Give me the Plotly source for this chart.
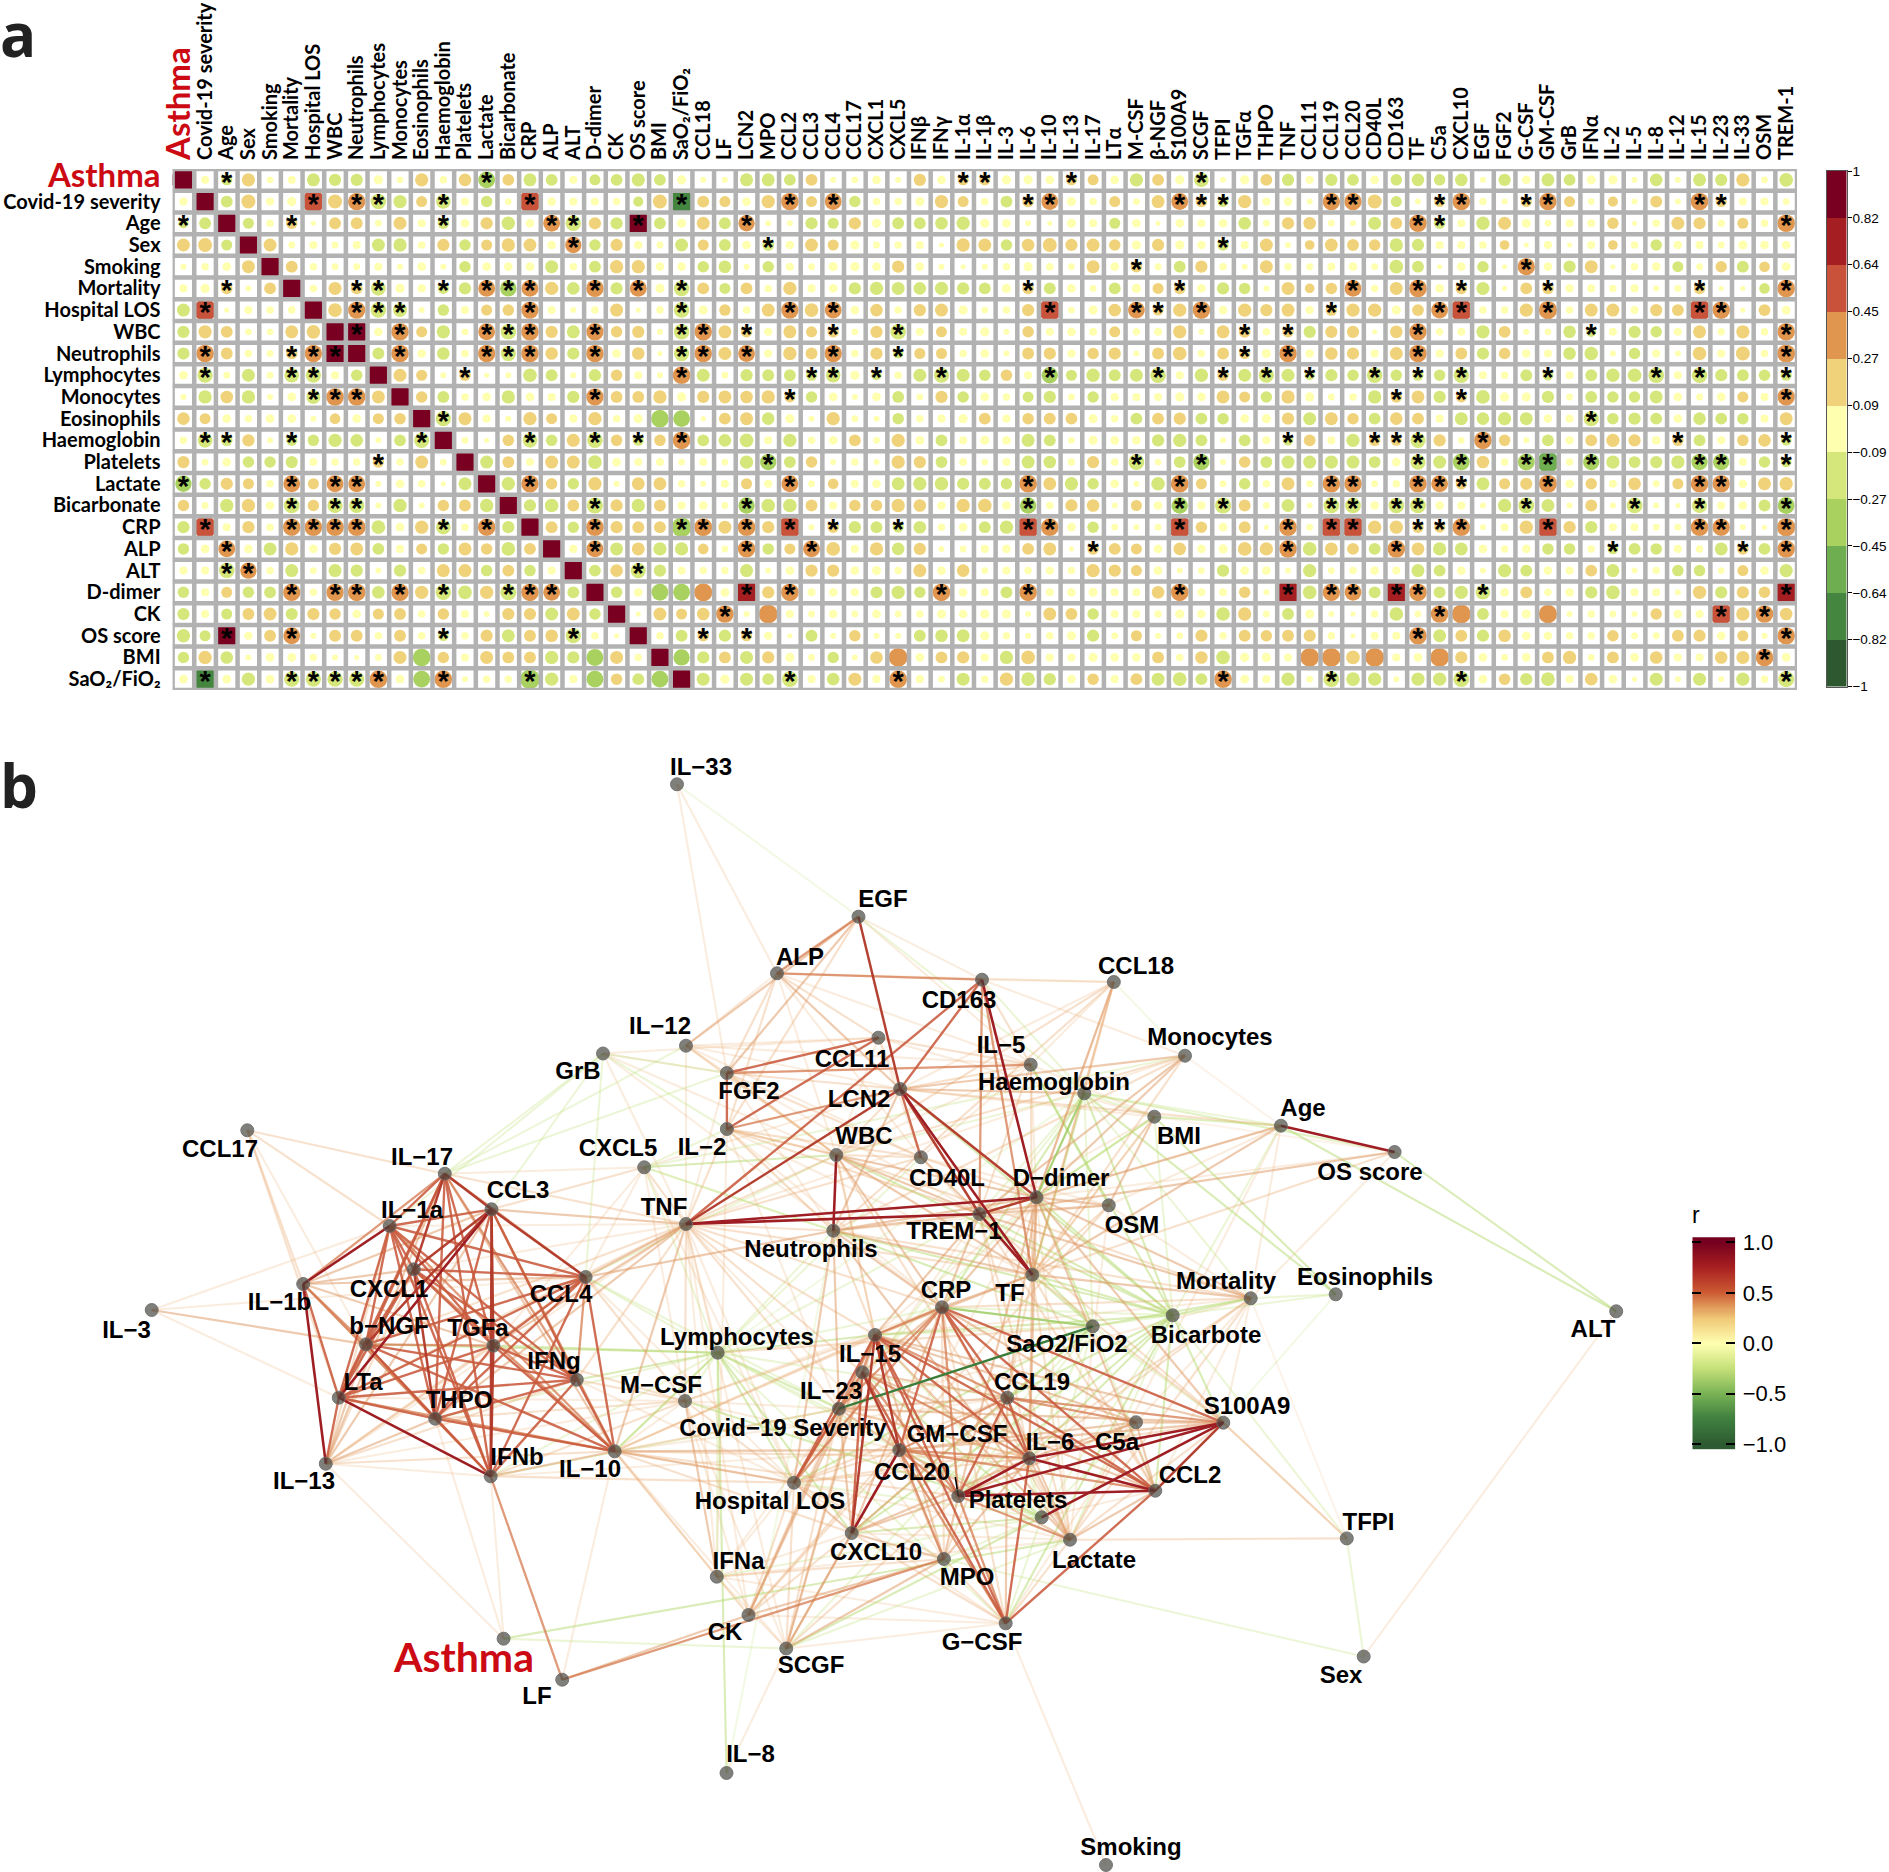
import numpy as np
import plotly.graph_objects as go

W, H = 1889, 1872

# ---------- panel a data ----------
col_labels = ["Asthma","Covid-19 severity","Age","Sex","Smoking","Mortality","Hospital LOS","WBC","Neutrophils","Lymphocytes","Monocytes","Eosinophils","Haemoglobin","Platelets","Lactate","Bicarbonate","CRP","ALP","ALT","D-dimer","CK","OS score","BMI","SaO₂/FiO₂","CCL18","LF","LCN2","MPO","CCL2","CCL3","CCL4","CCL17","CXCL1","CXCL5","IFNβ","IFNγ","IL-1α","IL-1β","IL-3","IL-6","IL-10","IL-13","IL-17","LTα","M-CSF","β-NGF","S100A9","SCGF","TFPI","TGFα","THPO","TNF","CCL11","CCL19","CCL20","CD40L","CD163","TF","C5a","CXCL10","EGF","FGF2","G-CSF","GM-CSF","GrB","IFNα","IL-2","IL-5","IL-8","IL-12","IL-15","IL-23","IL-33","OSM","TREM-1"]
row_labels = col_labels[:24]

# correlation x100, one list per row
r_asthma = [100,6,-12,18,4,6,-17,-15,-15,8,4,18,5,16,-30,14,-17,-14,6,-12,-14,-18,-14,8,3,3,-17,-17,-14,14,3,4,7,3,15,7,12,12,8,8,7,12,12,7,-18,14,8,-22,3,8,14,-15,6,-15,-14,7,-13,-16,-13,-16,3,-15,7,-17,-14,8,8,3,-16,3,-17,-15,18,4,-19]
r_covid = [6,100,-14,20,6,8,55,20,32,-25,-18,12,-22,6,-13,4,55,7,6,6,5,-10,20,-68,14,12,7,18,33,12,30,-13,5,5,8,18,12,5,-14,13,30,8,5,12,4,17,30,13,-12,18,6,7,3,32,32,20,-12,3,12,33,5,3,12,32,12,4,10,3,14,3,33,12,6,6,4]
r_age = [-10,-14,100,-12,5,13,2,14,14,4,17,6,-13,7,15,-18,7,30,-25,15,-15,90,-14,8,17,-14,28,3,3,-15,-12,15,8,-14,-14,-16,-18,8,7,3,2,8,6,-12,7,2,7,6,7,-16,4,15,16,4,3,-17,14,33,-13,6,-18,17,8,4,6,6,13,2,5,17,15,5,12,5,33]
r_sex = [17,20,-12,100,17,4,6,4,6,-17,-18,5,15,-13,12,18,17,7,28,-13,15,7,4,-17,12,-14,7,-14,7,17,12,8,4,5,6,2,18,17,-13,16,20,15,17,13,8,15,8,7,-13,6,17,3,9,17,14,13,-18,-15,6,6,5,9,2,6,2,6,9,5,-13,7,6,4,8,7,7]
r_smoking = [3,5,7,17,100,14,5,4,4,6,3,7,3,-13,7,7,7,-17,5,-14,18,18,7,7,-13,-16,3,-13,6,4,8,8,7,15,7,3,2,3,5,8,5,4,17,7,13,4,-14,15,5,3,17,5,4,6,7,4,-19,-14,2,7,-13,2,32,7,-15,17,2,5,7,-12,4,13,-14,11,7]
r_mortality = [6,8,13,3,14,100,5,17,14,-22,8,6,-12,-15,30,-28,30,18,-16,32,-15,30,8,-25,14,-12,14,5,18,6,7,-15,-18,-17,-16,-18,-15,-14,8,13,-14,7,4,-14,8,12,13,7,-15,-13,3,17,9,13,30,5,17,33,7,13,-17,2,14,13,6,6,5,6,3,4,13,2,2,-11,33]
r_hospital = [-17,55,2,6,5,5,100,19,32,-25,-20,3,-13,6,12,13,32,6,3,5,17,2,5,-25,8,13,5,17,32,19,30,7,16,5,15,17,8,4,5,15,55,4,8,16,30,12,18,33,7,18,15,17,6,13,18,18,8,14,30,55,5,5,18,36,5,17,17,6,15,14,55,33,2,14,7]
r_wbc = [-15,18,14,4,4,17,19,100,90,7,33,12,-18,4,30,-25,33,15,-17,32,13,15,3,-25,33,17,13,6,17,12,13,4,15,-25,6,12,6,8,3,13,6,7,6,12,5,6,18,3,17,14,5,13,-15,15,15,2,16,32,5,6,-18,14,3,4,-16,-10,6,-15,-13,6,17,5,18,5,33]
r_neutrophils = [-15,33,14,5,4,13,32,90,100,-14,33,7,-16,5,32,-24,33,16,-15,33,7,16,2,-24,33,17,30,6,18,14,32,5,15,-10,12,12,5,7,3,14,15,6,13,15,3,14,19,5,14,12,8,33,7,16,15,6,17,33,6,14,-15,13,7,6,-16,-19,3,-13,6,3,19,6,20,5,35]
r_lymphocytes = [7,-24,4,-17,4,-22,-24,6,-13,100,17,12,3,13,2,3,-19,-14,3,-15,13,6,3,33,-17,4,-15,-14,-14,-12,-22,8,-10,5,-17,-24,-17,-13,13,6,-28,-12,-18,-14,-17,-25,6,-18,13,-17,-24,-17,-10,-15,-13,-25,-13,-12,-13,-25,6,5,-14,-11,6,-14,-18,-19,-26,6,-25,-15,-14,-13,-12]
r_monocytes = [3,-18,16,-18,3,7,-20,33,33,17,100,13,-14,5,7,-18,7,6,-15,32,14,14,18,8,15,17,16,18,12,-13,7,3,7,-14,4,15,-13,7,5,-12,-15,4,-13,6,6,6,8,7,17,12,-13,18,8,4,5,-18,13,17,-15,12,-19,8,8,-15,4,-14,-13,-13,-17,7,4,7,12,6,32]
r_eosinophils = [16,12,7,5,7,7,3,11,7,12,13,100,-24,17,6,3,18,12,6,18,5,8,-33,-30,2,14,17,-16,8,3,18,4,3,-13,5,6,8,14,6,13,14,14,8,5,-14,14,15,-14,-13,7,8,15,-17,17,13,-14,16,14,6,-17,-16,-18,-17,7,6,-24,-13,-15,-14,7,-16,-14,-13,6,17]
r_haemoglobin = [5,-22,-13,15,3,-12,-13,-18,-16,3,-14,-24,100,4,2,13,-22,-13,17,-25,13,-12,13,33,-14,-16,-19,6,-18,5,7,14,4,18,7,-14,6,8,7,-17,-14,4,8,7,7,-15,-18,-14,3,-14,6,-11,14,6,-18,13,12,-24,15,4,33,13,3,-14,6,14,18,15,7,13,-14,6,13,16,-11]
r_platelets = [15,4,7,-13,-13,-15,6,5,5,13,5,17,4,100,-17,14,6,17,17,-19,7,6,6,4,6,4,-18,-28,-14,13,3,5,3,18,15,-14,6,4,6,-17,-16,5,15,5,-26,4,-14,-28,3,13,-14,-17,-17,-18,-17,-14,7,-24,-17,-30,16,5,-30,-50,5,-28,-18,-14,-15,-18,-28,-28,6,-13,-11]
r_lactate = [-28,-13,15,12,5,30,12,30,30,3,7,5,2,-17,100,-18,32,13,-13,18,3,17,17,5,3,6,12,6,30,4,11,6,7,-17,-18,-19,-15,-14,-13,34,17,-18,-13,7,3,-19,34,12,4,-13,5,17,4,33,33,4,5,33,30,13,-17,12,15,35,7,13,6,16,4,12,33,32,7,17,18]
r_bicarbonate = [13,4,-18,18,7,-26,13,-24,-24,3,-18,3,13,14,-18,100,-15,-19,14,-27,15,-18,14,6,7,4,-28,-19,-19,14,6,13,13,18,16,7,18,19,7,-28,5,15,16,3,12,7,-28,7,-27,14,4,-17,3,-26,-26,7,-25,-26,7,6,3,-18,-26,-17,3,14,3,-26,3,2,-24,6,7,-14,-30]
r_crp = [-15,55,6,15,5,32,33,33,33,-19,7,18,-22,5,32,-15,100,14,-13,33,15,14,14,-42,34,17,33,15,58,3,13,-15,-14,-12,-16,5,7,-14,-18,58,33,7,-13,4,3,4,58,13,7,14,2,33,4,58,58,18,18,13,12,33,3,6,18,58,15,-15,6,6,4,4,33,32,3,2,36]
r_alp = [-13,7,30,7,-17,18,7,15,17,-14,6,12,-13,17,13,-19,14,100,6,30,-17,17,-18,-18,11,4,32,-13,12,30,19,6,18,-16,15,3,4,6,7,14,17,2,13,14,12,7,16,7,8,19,18,33,-19,17,14,-14,33,17,-18,-17,7,5,7,-13,-13,5,-11,-14,-13,6,5,-17,13,-14,33]
r_alt = [6,6,-25,28,5,-17,4,-17,-15,3,-15,5,17,17,-13,14,-13,6,100,-14,16,-24,-15,6,5,5,-17,3,7,15,15,7,8,5,17,7,16,4,6,5,6,5,18,15,12,7,3,4,-15,7,7,3,-18,4,5,7,6,-17,-14,7,3,-18,-14,7,6,14,-17,3,5,-13,-13,4,12,7,-18]
r_ddimer = [-13,6,12,-13,-14,32,5,32,33,-16,32,18,-25,-19,18,-27,33,30,-14,100,-13,7,-30,-30,35,7,70,15,33,6,7,6,-14,-18,-13,33,7,6,-14,33,6,7,8,6,6,16,33,6,6,13,3,70,-19,32,30,-14,70,33,-14,-18,-22,7,14,5,7,-15,-19,6,6,3,18,-15,15,13,70]
r_ck = [-15,6,-12,14,17,-15,15,13,7,12,14,5,13,6,3,15,15,-17,17,-13,100,2,17,12,16,33,3,38,6,4,7,4,7,4,5,8,7,8,8,3,17,14,-13,6,6,5,8,7,-19,18,4,-14,8,3,2,5,-19,4,33,38,-14,6,8,36,3,5,4,3,13,7,6,55,18,33,16]
r_os = [-18,-12,90,6,14,30,3,14,14,5,14,5,-11,5,15,-17,14,16,-24,5,2,100,5,-14,13,-15,12,6,2,-14,3,13,3,3,-14,-16,-17,8,5,3,5,8,-15,4,12,3,4,15,5,14,13,14,15,5,2,6,6,33,-17,14,-15,16,7,7,5,5,13,4,4,14,15,7,12,3,33]
r_bmi = [-13,18,-16,3,7,7,5,3,2,4,17,-33,13,6,17,14,14,-18,-15,-30,17,5,100,-28,-15,14,-17,15,8,4,-13,3,16,38,7,14,15,6,-18,19,6,6,8,7,7,14,5,16,-19,8,8,6,37,38,19,38,6,7,38,15,7,4,7,14,18,4,14,7,16,6,6,16,17,33,7]
r_sao2 = [7,-68,7,-18,7,-24,-24,-24,-24,33,7,-30,33,3,5,5,-42,-18,6,-30,13,-14,-30,100,-17,8,-17,-14,-26,6,-16,17,6,33,6,4,-17,5,18,-19,-15,7,13,6,14,-17,-19,-14,33,7,6,-18,4,-26,-19,-18,3,-18,-18,-26,7,13,-15,-19,6,16,7,2,-17,3,-17,3,-18,5,-27]
matrix_rows = [r_asthma,r_covid,r_age,r_sex,r_smoking,r_mortality,r_hospital,r_wbc,r_neutrophils,r_lymphocytes,r_monocytes,r_eosinophils,r_haemoglobin,r_platelets,r_lactate,r_bicarbonate,r_crp,r_alp,r_alt,r_ddimer,r_ck,r_os,r_bmi,r_sao2]

# significant cells (column index) for each row
sig_cols = [
 [2,14,36,37,41,47],
 [6,8,9,12,16,23,28,30,39,40,46,47,48,53,54,58,59,62,63,70,71],
 [0,5,12,17,18,21,26,57,58,74],
 [18,27,48],
 [44,62],
 [2,8,9,12,14,15,16,19,21,23,39,46,54,57,59,63,70,74],
 [1,8,9,10,16,23,28,30,40,44,45,47,53,58,59,63,70,71],
 [8,10,14,15,16,19,23,24,26,30,33,49,51,57,65,74],
 [1,5,6,7,10,14,15,16,19,23,24,26,30,33,49,51,57,74],
 [1,5,6,13,23,29,30,32,35,40,45,48,50,52,55,57,59,63,68,70,74],
 [6,7,8,19,28,56,59,74],
 [12,65],
 [1,2,5,11,16,19,21,23,51,55,56,57,60,69,74],
 [9,27,44,47,57,59,62,63,65,70,71,74],
 [0,5,7,8,16,28,39,46,53,54,57,58,59,63,70,71],
 [5,7,8,19,26,39,46,48,53,54,56,57,62,67,70,74],
 [1,5,6,7,8,12,14,19,23,24,26,28,30,33,39,40,46,51,53,54,57,58,59,63,70,71,74],
 [2,19,26,29,42,51,56,66,72,74],
 [2,3,21],
 [5,7,8,10,12,15,16,17,26,28,35,39,46,51,53,54,56,57,60,74],
 [25,58,71,73],
 [2,5,12,18,24,26,57,74],
 [73],
 [1,5,6,7,8,9,12,16,28,33,48,53,59,74],
]

bin_ticks = ["−1","−0.82","−0.64","−0.45","−0.27","−0.09","0.09","0.27","0.45","0.64","0.82","1"]
bin_edges = [-1,-0.82,-0.64,-0.45,-0.27,-0.09,0.09,0.27,0.45,0.64,0.82,1.0001]
bin_colors = ["#2E5930","#448540","#6FAE50","#A8D160","#D5E77A","#FFFFB0","#EFD279","#E0964F","#C9533A","#A51E22","#7A0022"]

# ---------- panel b data ----------
node_ids = ["IL33","EGF","ALP","CD163","CCL18","IL12","GrB","Mono","CCL11","IL5","FGF2","Haem","LCN2","BMI","Age","OS","WBC","IL2","CCL17","CXCL5","CD40L","Ddim","IL17","OSM","TNF","CCL3","IL1a","TREM1","Neut","CXCL1","IL1b","CCL4","TF","Mort","Eos","CRP","IL3","ALT","Bic","bNGF","TGFa","Lymph","IL15","SaO2","IFNg","IL23","LTa","MCSF","THPO","S100A9","CCL19","GMCSF","C5a","IL6","Covid","IL10","IFNb","IL13","CCL20","CCL2","Plat","Hosp","Lact","TFPI","CXCL10","IFNa","MPO","CK","GCSF","SCGF","Asthma","Sex","LF","IL8","Smoke"]
node_names = ["IL−33","EGF","ALP","CD163","CCL18","IL−12","GrB","Monocytes","CCL11","IL−5","FGF2","Haemoglobin","LCN2","BMI","Age","OS score","WBC","IL−2","CCL17","CXCL5","CD40L","D−dimer","IL−17","OSM","TNF","CCL3","IL−1a","TREM−1","Neutrophils","CXCL1","IL−1b","CCL4","TF","Mortality","Eosinophils","CRP","IL−3","ALT","Bicarbote","b−NGF","TGFa","Lymphocytes","IL−15","SaO2/FiO2","IFNg","IL−23","LTa","M−CSF","THPO","S100A9","CCL19","GM−CSF","C5a","IL−6","Covid−19 Severity","IL−10","IFNb","IL−13","CCL20","CCL2","Platelets","Hospital LOS","Lactate","TFPI","CXCL10","IFNa","MPO","CK","G−CSF","SCGF","Asthma","Sex","LF","IL−8","Smoking"]
node_x = [677,858.5,777,982,1113.8,686,603,1185,878.4,1030.7,726.9,1084.3,900.2,1154.3,1280.9,1394.6,836.3,726.9,247.3,644.2,920.9,1036.5,444.8,1108.8,686,491.5,389.7,979.5,833.3,413.8,303.2,585.6,1032.3,1250.7,1335.7,942,151.7,1616.2,1172.7,366,493.4,717.7,875,1092.7,576.8,862.3,338.8,685,435.2,1223.3,1007.3,899.3,1136,1029.3,839,614.7,490.7,325.8,958.3,1155.3,1041.7,794,1070,1346.8,851.7,716.8,943.9,748.5,1005.7,786.2,503.6,1363.7,562.2,726.5,1106]
node_y = [784.3,916.7,973.3,979.7,982,1045.7,1053.5,1055.7,1037.7,1064.7,1073,1093.3,1089,1116.7,1125.7,1152,1155,1129,1130.3,1167.3,1157.3,1197.3,1173.7,1205.3,1224,1209.3,1226,1214,1230.7,1269.3,1284,1277,1274.7,1298.3,1294.3,1307.3,1310,1311.3,1315.3,1344.3,1345.7,1352.7,1335,1326.3,1379.7,1372.3,1397.7,1401,1418.7,1422.7,1397.7,1450,1422.3,1458.3,1408.7,1451.3,1476.3,1463.7,1496,1490.7,1517.3,1482.7,1539.7,1538.4,1533,1576.7,1559,1615,1623.3,1648.5,1638.7,1656.5,1679.7,1773,1865]
label_x = [701,883,800,959,1136,660,578,1210,852,1001,749,1054,859,1179,1303,1370,864,702,220,618,947,1061,422,1132,664,518,412,954,811,389,279.5,561,1010,1226,1365,946,126.5,1593,1206,389,478,737,870,1067,554,831,363,661,459,1247,1032,957,1117,1050,783,590,517,304,912,1190,1018,770,1094,1368.5,876,738.5,967,725,982,811,464,1341,537,750.5,1131]
label_y = [769,901,958.5,1002,968,1028,1073,1039,1061,1046.5,1093,1084,1101,1138,1110,1174,1138,1149,1151,1150,1180,1180,1158.5,1227,1209,1192,1211.5,1233,1251,1291,1304,1296,1295,1283,1279,1292,1332,1331,1337,1328,1329.5,1339,1356,1346,1363,1393,1384,1387,1402,1408,1384,1436,1444,1444,1429.6,1470.5,1458.5,1482.5,1474,1476.5,1502,1503,1562,1523.5,1554,1563,1579,1634,1644,1667,1662,1676.5,1698,1756,1849]

edge_list = """
WBC Neut 95;Age OS 95;IL1b IL13 95;IL6 S100A9 92;Plat S100A9 92;CCL20 S100A9 92;CCL20 CCL2 90;IL6 CCL2 88;CCL20 IL6 88;GMCSF CXCL10 92;LTa IFNb 88;IL1a IL1b 85;
TNF TREM1 80;TNF Ddim 80;LCN2 TF 80;LCN2 TREM1 78;LCN2 Ddim 72;CD163 Ddim 80;EGF LCN2 70;TREM1 TF 80;TREM1 Ddim 68;CCL2 S100A9 72;CCL3 LTa 80;CCL3 CXCL1 78;TNF LCN2 66;TNF CD163 62;LCN2 CD163 62;LCN2 CD40L 62;CCL11 IL2 56;CCL11 FGF2 56;FGF2 IL2 56;CD163 TREM1 48;CD163 TF 45;
FGF2 IL5 40;LCN2 IL2 40;LCN2 Mono 30;ALP CD163 40;EGF IL12 38;LCN2 Haem 32;CCL11 IL5 25;IL2 CD40L 25;FGF2 LCN2 25;
IL17 CCL3 72;IL17 IL1a 50;IL17 CXCL1 65;IL17 LTa 60;IL17 THPO 62;IL17 IFNb 62;IL17 bNGF 55;IL17 TGFa 55;IL17 IL1b 40;IL17 CCL4 45;IL17 IFNg 40;IL17 IL10 30;IL17 IL13 30;IL17 CCL17 28;IL17 TNF 20;IL17 CXCL5 12;IL17 GrB -12;IL17 FGF2 -12;IL17 IL12 -10;
CCL3 IL1a 55;CCL3 THPO 60;CCL3 IFNb 70;CCL3 TGFa 65;CCL3 CCL4 72;CCL3 IFNg 55;CCL3 IL10 45;CCL3 bNGF 68;CCL3 IL13 30;CCL3 IL1b 35;CCL3 TNF 30;CCL3 CXCL5 20;CCL3 GrB -10;
IL1a CXCL1 55;IL1a CCL4 60;IL1a LTa 62;IL1a bNGF 60;IL1a THPO 55;IL1a TGFa 60;IL1a IFNg 55;IL1a IFNb 50;IL1a IL10 45;IL1a CCL17 25;IL1a IL13 20;IL1a GrB -10;IL1a IL3 12;IL1a TNF 15;
CXCL1 CCL4 60;CXCL1 IL1b 35;CXCL1 bNGF 55;CXCL1 TGFa 55;CXCL1 LTa 60;CXCL1 THPO 65;CXCL1 IFNb 60;CXCL1 IFNg 50;CXCL1 IL10 40;CXCL1 IL13 20;CXCL1 TNF 15;
IL1b CCL4 35;IL1b LTa 55;IL1b bNGF 40;IL1b THPO 40;IL1b TGFa 30;IL1b IFNb 30;IL1b CCL17 25;
CCL4 TGFa 50;CCL4 IFNg 45;CCL4 LTa 60;CCL4 bNGF 50;CCL4 THPO 55;CCL4 IFNb 55;CCL4 IL10 55;CCL4 IL13 25;CCL4 TNF 35;CCL4 Lymph -12;CCL4 MCSF 20;CCL4 IL3 12;CCL4 CXCL5 15;CCL4 Hosp 15;CCL4 Covid -18;
bNGF TGFa 45;bNGF IFNg 50;bNGF LTa 55;bNGF THPO 50;bNGF IFNb 50;bNGF IL10 50;bNGF IL13 30;bNGF Lymph -20;bNGF IL3 32;bNGF TNF 25;bNGF CCL17 18;
TGFa IFNg 50;TGFa LTa 50;TGFa THPO 55;TGFa IFNb 70;TGFa IL10 50;TGFa IL13 25;TGFa TNF 30;TGFa Lymph -20;TGFa MCSF 20;TGFa CXCL5 12;
IFNg LTa 50;IFNg THPO 50;IFNg IFNb 50;IFNg IL10 55;IFNg IL13 20;IFNg TNF 25;IFNg MCSF 20;IFNg Lymph -20;IFNg Hosp 15;
LTa THPO 60;LTa IL10 45;LTa IL13 60;LTa TNF 20;LTa IL3 12;LTa CCL17 20;LTa MCSF 18;
THPO IFNb 60;THPO IL10 62;THPO IL13 30;THPO TNF 30;THPO MCSF 25;THPO Lymph -18;THPO Hosp 18;THPO Asthma 10;
IFNb IL10 30;IFNb IL13 15;IFNb LF 42;IFNb Asthma 12;IFNb Lymph -15;IFNb MCSF 20;IFNb Hosp 20;IFNb Covid -12;IFNb GMCSF 18;
IL13 IL10 20;IL13 Asthma 10;IL13 MCSF 15;IL13 TNF 12;
IL10 Lymph -25;IL10 MCSF 18;IL10 TNF 30;IL10 Hosp 36;IL10 IFNa 26;IL10 CK 15;IL10 GMCSF 35;IL10 CXCL10 20;IL10 CCL20 22;IL10 IL15 25;IL10 CRP 22;IL10 Covid 22;IL10 SCGF 15;IL10 CCL19 18;IL10 LF 10;IL10 IL6 20;
TNF Lymph 12;TNF MCSF 20;TNF Hosp 15;TNF Covid 20;TNF IL15 25;TNF CRP 25;TNF GMCSF 15;TNF Neut 20;TNF IL23 25;TNF WBC 25;TNF CD40L 22;TNF IL12 12;TNF CXCL5 20;TNF IL2 22;TNF GrB 15;TNF SCGF 14;TNF IFNa 10;TNF CK 15;TNF FGF2 18;TNF Mono 15;TNF TF 25;
WBC CRP 32;WBC TREM1 30;WBC TF 35;WBC Ddim 30;WBC CD40L 25;WBC IL15 20;WBC LCN2 25;WBC IL2 20;WBC Mort 25;WBC Lact 25;WBC GMCSF 15;WBC FGF2 20;WBC Mono 25;WBC CCL18 20;WBC Haem -12;WBC Bic -25;WBC CCL4 -10;WBC IL12 15;WBC CXCL5 -20;
Neut CRP 35;Neut TF 38;Neut TREM1 35;Neut Ddim 30;Neut LCN2 30;Neut IL15 25;Neut Mort 25;Neut Lact 30;Neut Hosp 30;Neut Covid 30;Neut CCL18 25;Neut FGF2 15;Neut Mono 28;Neut Bic -20;Neut SaO2 -25;Neut CCL4 30;Neut IL2 15;Neut CXCL5 -12;Neut Lymph -12;Neut IL8 -8;
TREM1 CRP 35;TREM1 OSM 30;TREM1 BMI 15;TREM1 Mono 30;TREM1 Age 30;TREM1 OS 30;TREM1 IL15 30;TREM1 CD40L 35;TREM1 Mort 30;TREM1 Lact 20;TREM1 CCL2 20;TREM1 IL6 25;TREM1 Haem -15;TREM1 IL5 22;TREM1 Bic -28;TREM1 SaO2 -22;TREM1 Lymph -14;TREM1 Hosp 15;TREM1 S100A9 25;TREM1 IL2 18;TREM1 FGF2 12;
Ddim CRP 35;Ddim TF 35;Ddim OSM 30;Ddim IL5 15;Ddim Haem -30;Ddim Bic -28;Ddim CCL2 35;Ddim IL6 35;Ddim S100A9 35;Ddim GMCSF 12;Ddim Mort 30;Ddim SaO2 -20;Ddim BMI -25;Ddim CCL18 30;Ddim CCL20 30;Ddim CCL19 30;Ddim CD40L 20;Ddim Mono 30;Ddim Lact 18;Ddim IL15 18;Ddim Age 15;Ddim IL23 -10;
TF CRP 30;TF Mort 33;TF OSM 25;TF Age 30;TF OS 25;TF BMI 20;TF Haem -25;TF Bic -25;TF IL5 20;TF IL15 30;TF CCL19 25;TF CCL18 22;TF SaO2 -20;TF IL6 30;TF Lact 20;TF CCL2 25;TF S100A9 25;TF Mono 20;TF CD40L 18;TF IL2 12;TF LCN2 20;
OSM CK 28;OSM IL5 -25;OSM BMI 30;OSM Age 14;OSM Mort 15;OSM Lact 14;OSM CD40L 12;OSM Neut 14;
Haem Mort -15;Haem Bic -20;Haem CRP -25;Haem Age -12;Haem Eos -24;Haem EGF -15;Haem CD163 -14;Haem SaO2 -18;Haem OS -10;Haem Lymph -8;Haem Covid -14;
Mono CD163 14;Mono CCL18 -8;BMI Haem -10;BMI Eos -22;BMI Bic -12;BMI LCN2 14;BMI Age -12;BMI IL5 14;BMI TF 15;BMI Ddim -14;BMI CCL11 12;
EGF ALP 40;EGF FGF2 30;EGF IL2 22;EGF CD163 15;EGF IL5 14;EGF IL33 -4;IL33 ALP 12;IL33 FGF2 12;
ALP FGF2 22;ALP CCL11 22;ALP LCN2 30;ALP IL12 12;ALP IL2 20;ALP CCL18 14;ALP WBC 15;ALP IL5 14;ALP CD40L 16;
IL12 CCL11 14;IL12 IL5 16;IL12 FGF2 10;IL12 LCN2 12;IL12 CD40L 14;IL12 WBC 14;GrB CCL11 14;GrB WBC 18;GrB CRP 16;GrB FGF2 12;GrB IL2 -10;GrB CCL4 -10;GrB FGF2 -12;
CCL18 CD163 14;CCL18 LCN2 14;CCL18 TF 24;CCL18 Haem 12;CCL18 Ddim 24;CCL18 IL5 12;IL5 CD163 26;IL5 LCN2 24;IL5 WBC 14;IL5 CD40L 14;CCL11 LCN2 18;CCL11 CD40L 18;CCL11 WBC 16;FGF2 CD40L 20;FGF2 WBC 18;IL2 WBC 22;IL2 TREM1 18;IL2 Neut 14;IL2 Covid 12;IL2 IFNa 10;IL2 CRP 14;
CXCL5 Lymph -12;CXCL5 MCSF 12;CXCL5 LCN2 14;CXCL5 IL2 -12;CXCL5 Mono -10;CXCL5 Neut -14;CXCL5 Hosp 14;
SaO2 CRP -48;Covid SaO2 -70;SaO2 Bic -16;SaO2 Mort -20;SaO2 Lymph 26;SaO2 S100A9 -18;SaO2 CCL19 -26;SaO2 CXCL10 -22;SaO2 IL6 -18;SaO2 CCL2 -18;SaO2 SCGF -14;SaO2 Plat -12;SaO2 IL15 -16;SaO2 Hosp -22;SaO2 CCL20 -14;
Bic S100A9 -28;Bic Mort -28;Bic CCL19 -25;Bic CCL20 -25;Bic IL6 -28;Bic CCL2 -20;Bic GCSF -25;Bic IL5 -25;Bic TFPI -15;Bic CXCL10 -20;Bic Eos -10;Bic CRP -15;Bic IL15 -24;Bic Lact -16;Bic LCN2 -20;Bic Plat -12;
Lymph IL15 -22;Lymph MCSF -18;Lymph Covid -25;Lymph Hosp -22;Lymph IL8 -26;Lymph CRP -14;Lymph GMCSF -14;Lymph CXCL10 -20;Lymph CCL19 -12;Lymph IL10 -14;Lymph IFNa -10;Lymph Plat -10;Lymph CD40L -14;
MCSF Hosp 20;MCSF IL15 20;MCSF Covid 16;MCSF CRP 14;MCSF IFNa 30;MCSF Plat -24;MCSF SCGF 18;MCSF CK 14;MCSF GMCSF 14;
Hosp Covid 52;Hosp IL15 50;Hosp IL23 45;Hosp CRP 40;Hosp GMCSF 28;Hosp CXCL10 32;Hosp SCGF 28;Hosp CK 20;Hosp CCL19 20;Hosp IL6 22;Hosp S100A9 20;Hosp MPO 22;Hosp IFNa 18;Hosp Lact 16;Hosp Plat -12;Hosp GCSF 18;
IL15 CRP 45;IL15 IL23 40;IL15 GMCSF 65;IL15 CCL20 55;IL15 GCSF 55;IL15 CCL19 45;IL15 IL6 50;IL15 CCL2 50;IL15 S100A9 36;IL15 C5a 35;IL15 CXCL10 65;IL15 Covid 40;IL15 SCGF 30;IL15 MPO 35;IL15 Lact 30;IL15 CK 36;IL15 Mort 16;IL15 Plat -14;
IL23 GMCSF 70;IL23 CXCL10 60;IL23 GCSF 55;IL23 CCL19 35;IL23 IL6 40;IL23 CCL20 40;IL23 CCL2 35;IL23 CK 30;IL23 SCGF 28;IL23 Plat -26;IL23 CRP 36;IL23 Covid 20;IL23 MPO 28;
CRP CCL19 50;CRP IL6 50;CRP CCL20 40;CRP CCL2 50;CRP S100A9 50;CRP GMCSF 50;CRP Covid 45;CRP CXCL10 35;CRP C5a 30;CRP Mort 20;CRP Lact 28;CRP GCSF 28;CRP MPO 24;
Covid CXCL10 36;Covid GMCSF 30;Covid CCL19 30;Covid IL6 20;Covid S100A9 30;Covid CCL2 28;Covid CK 18;Covid SCGF 24;Covid IFNa 12;Covid MPO 14;Covid Mort 12;
CCL19 CCL20 55;CCL19 IL6 55;CCL19 CCL2 50;CCL19 S100A9 46;CCL19 C5a 40;CCL19 GMCSF 40;CCL19 GCSF 30;CCL19 Lact 30;CCL19 CXCL10 30;CCL19 Plat -14;CCL19 MPO 20;
GMCSF CCL20 45;GMCSF IL6 45;GMCSF CCL2 40;GMCSF S100A9 35;GMCSF Lact 30;GMCSF MPO 40;GMCSF GCSF 40;GMCSF Plat -20;GMCSF C5a 30;GMCSF SCGF 30;GMCSF CK 28;
IL6 C5a 30;IL6 GCSF 50;IL6 Lact 35;IL6 CXCL10 35;IL6 MPO 30;IL6 Plat -12;IL6 Mort 20;
CCL20 C5a 30;CCL20 Lact 40;CCL20 GCSF 40;CCL20 CXCL10 30;CCL20 MPO 30;CCL20 Mort 28;CCL20 SCGF 22;
GCSF CCL2 55;GCSF Plat -18;GCSF Lact 20;GCSF MPO 24;GCSF SCGF 15;GCSF Smoke 12;GCSF Lymph -10;GCSF CXCL10 20;GCSF C5a 14;GCSF IFNa 12;GCSF CK 15;
CCL2 C5a 32;CCL2 Lact 30;CCL2 Plat 14;S100A9 C5a 34;S100A9 Lact 22;S100A9 TFPI 20;S100A9 Plat -12;S100A9 Mort 14;C5a Plat -10;C5a Lact 22;C5a Mort 14;
MPO LF 42;MPO CK 30;MPO SCGF 30;MPO IFNa 20;MPO CXCL10 34;MPO Sex -12;MPO Plat -18;
CK LF 30;CK IFNa 10;CK CXCL10 28;
SCGF IL8 10;SCGF CXCL10 30;SCGF Plat -28;SCGF IFNa 16;SCGF Lact -12;
Asthma Lact -24;Asthma SCGF -15;
CXCL10 Plat -28;CXCL10 Lact 18;IFNa Plat -14;IFNa Lact 10;Lact TFPI 20;CXCL10 IFNa 12;
Sex ALT 13;Sex TFPI -10;TFPI S100A9 12;
ALT Age -26;ALT OS -26;
OS Mort 15;OS Haem -8;OS BMI 8;OS Ddim 14;Age Mort 14;Age Bic -10;Age BMI -10;Age LCN2 24;Age Lact 10;Age Mono 8;
Eos Mort -10;Eos S100A9 -8;Mort Lact 20;Mort CCL2 12;Mort TFPI 6
"""

# ---------- styles ----------
page_font = "Lato"
net_font = "Liberation Sans"
GRID = "#B2B2B2"

def px_x(v):
    return v / W

def px_y(v):
    return 1 - v / H

m = np.array(matrix_rows, dtype=float) / 100.0
rows, cols = np.indices(m.shape)
vals = m.ravel()
idx = np.clip(np.digitize(vals, bin_edges) - 1, 0, 10)
cell_colors = [bin_colors[i] for i in idx]
diam = np.minimum(29 * np.sqrt(np.abs(vals)) + 1, 24.5)

fig = go.Figure()

# matrix discs, clipped visually by the grey grid drawn over them
fig.add_trace(go.Scatter(x=cols.ravel(), y=rows.ravel(), mode="markers", xaxis="x", yaxis="y",
                         marker=dict(size=diam, color=cell_colors, opacity=1, line=dict(width=0)), hoverinfo="skip"))
gx, gy = [], []
for k in range(76):
    gx += [k - .5, k - .5, None]
    gy += [-.5, 23.5, None]
for k in range(25):
    gx += [-.5, 74.5, None]
    gy += [k - .5, k - .5, None]
fig.add_trace(go.Scatter(x=gx, y=gy, mode="lines", xaxis="x", yaxis="y", cliponaxis=False,
                         line=dict(color=GRID, width=4.5), hoverinfo="skip"))
sx, sy = [], []
for ri, row in enumerate(sig_cols):
    for c in row:
        sx.append(c)
        sy.append(ri + 0.22)
fig.add_trace(go.Scatter(x=sx, y=sy, mode="text", text=["*"] * len(sx), xaxis="x", yaxis="y",
                         textfont=dict(family="Liberation Sans", size=29, color="black", weight="bold"),
                         textposition="middle center", hoverinfo="skip"))

# discrete colour key of panel a
fig.add_trace(go.Heatmap(z=[[i] for i in range(11)], x=[0], y=[i + .5 for i in range(11)], xaxis="x2", yaxis="y2",
                         zmin=-.5, zmax=10.5, showscale=False, hoverinfo="skip",
                         colorscale=[[j / 11 if k == 0 else (j + 1) / 11, c] for j, c in enumerate(bin_colors) for k in (0, 1)]))

# network
pos = {n: (x, y) for n, x, y in zip(node_ids, node_x, node_y)}
edges = []
for part in edge_list.replace("\n", "").split(";"):
    if part.strip():
        a, b, r = part.split()
        edges.append((a, b, int(r)))

pos_stops = [(0, "#E8A868", .14), (10, "#E8A868", .22), (20, "#E6A468", .33), (30, "#DE9660", .5), (40, "#D47A4E", .75),
             (50, "#C85A3C", .88), (65, "#B23A2A", .97), (80, "#9E1E24", 1), (100, "#75001F", 1)]
neg_stops = [(0, "#BFE07A", .2), (10, "#BFE07A", .3), (20, "#B5D970", .5), (30, "#9CCB62", .85), (50, "#62A64F", 1), (70, "#3A7D3A", 1), (100, "#2D5A30", 1)]

def edge_style(r):
    stops = pos_stops if r >= 0 else neg_stops
    a = abs(r)
    chosen = stops[0]
    for s in stops:
        if a >= s[0]:
            chosen = s
    c = chosen[1]
    return "rgba(%d,%d,%d,%.2f)" % (int(c[1:3], 16), int(c[3:5], 16), int(c[5:7], 16), chosen[2])

levels = {}
for a, b, r in edges:
    levels.setdefault(edge_style(r), []).append((a, b, r))
for style, group in sorted(levels.items(), key=lambda kv: abs(kv[1][0][2])):
    ex, ey = [], []
    for a, b, r in group:
        ex += [pos[a][0], pos[b][0], None]
        ey += [pos[a][1], pos[b][1], None]
    fig.add_trace(go.Scatter(x=ex, y=ey, mode="lines", xaxis="x3", yaxis="y3", hoverinfo="skip",
                             line=dict(color=style, width=2.0 + abs(group[0][2]) / 100 * 0.6)))

# leader of the CCL20 label
ci = node_ids.index("CCL20")
fig.add_trace(go.Scatter(x=[node_x[ci], node_x[ci] - 3], y=[node_y[ci], node_y[ci] - 19], mode="lines", xaxis="x3", yaxis="y3",
                         line=dict(color="black", width=1.6), hoverinfo="skip"))
fig.add_trace(go.Scatter(x=node_x, y=node_y, mode="markers", xaxis="x3", yaxis="y3", hoverinfo="skip",
                         marker=dict(size=13, color="rgba(66,66,60,0.68)", line=dict(color="rgba(110,110,110,0.9)", width=1))))
ai = node_ids.index("Asthma")
tx = [v for i, v in enumerate(label_x) if i != ai]
ty = [v for i, v in enumerate(label_y) if i != ai]
tt = [v for i, v in enumerate(node_names) if i != ai]
fig.add_trace(go.Scatter(x=tx, y=ty, text=tt, mode="text", xaxis="x3", yaxis="y3", cliponaxis=False, hoverinfo="skip",
                         textposition="middle center",
                         textfont=dict(family=net_font, size=24, color="black", weight="bold")))
fig.add_trace(go.Scatter(x=[label_x[ai]], y=[label_y[ai]], text=[node_names[ai]], mode="text", xaxis="x3", yaxis="y3", cliponaxis=False,
                         hoverinfo="skip", textposition="middle center",
                         textfont=dict(family=page_font, size=41, color="#CC0A14", weight="bold")))

# continuous colour key of panel b
key_values = np.linspace(-1.05, 1.05, 211)
fig.add_trace(go.Heatmap(z=[[v] for v in key_values], x=[0], y=key_values, xaxis="x4", yaxis="y4", zmin=-1, zmax=1,
                         showscale=False, hoverinfo="skip",
                         colorscale=[[0, "#2D5A30"], [.125, "#3F7F3F"], [.25, "#7AB354"], [.375, "#C5E07A"], [.5, "#FFFFB0"],
                                     [.625, "#F0C878"], [.75, "#CC5A33"], [.875, "#A82020"], [1, "#75001F"]]))

red_span = '<span style="color:#CC0A14;font-size:33px">Asthma</span>'
fig.update_layout(
    width=W, height=H, autosize=False, margin=dict(l=0, r=0, t=0, b=0, autoexpand=False),
    paper_bgcolor="white", plot_bgcolor="rgba(0,0,0,0)", showlegend=False,
    font=dict(family=page_font, color="black"),
    xaxis=dict(automargin=False, domain=[px_x(172.6), px_x(1797)], range=[-.5, 74.5], side="top", anchor="y", showgrid=False, zeroline=False,
               tickmode="array", tickvals=list(range(75)), ticktext=[red_span] + col_labels[1:], tickangle=-90, ticks="", ticklabelstandoff=8,
               tickfont=dict(family=page_font, size=20, color="black", weight="bold")),
    yaxis=dict(automargin=False, domain=[px_y(690), px_y(169)], range=[23.5, -.5], anchor="x", showgrid=False, zeroline=False,
               tickmode="array", tickvals=list(range(24)), ticktext=[red_span] + row_labels[1:], ticks="", ticklabelstandoff=11,
               tickfont=dict(family=page_font, size=20, color="black", weight="bold")),
    xaxis2=dict(automargin=False, domain=[px_x(1826.7), px_x(1846.7)], anchor="y2", showticklabels=False, ticks="", showgrid=False, zeroline=False,
                showline=True, mirror=True, linecolor="#555", linewidth=1),
    yaxis2=dict(automargin=False, domain=[px_y(686.6), px_y(171)], range=[0, 11], anchor="x2", side="right", showgrid=False, zeroline=False,
                tickmode="array", tickvals=list(range(12)), ticktext=bin_ticks, ticks="outside", ticklen=4, tickcolor="black",
                ticklabelstandoff=-2, tickfont=dict(family=net_font, size=13.5, color="black"), showline=True, mirror=True, linecolor="#555", linewidth=1),
    xaxis3=dict(automargin=False, domain=[0, 1], range=[0, W], anchor="y3", visible=False),
    yaxis3=dict(automargin=False, domain=[0, px_y(720)], range=[H, 720], anchor="x3", visible=False),
    xaxis4=dict(automargin=False, domain=[px_x(1692.3), px_x(1735.3)], anchor="y4", showticklabels=False, ticks="", showgrid=False, zeroline=False),
    yaxis4=dict(automargin=False, domain=[px_y(1449.3), px_y(1237.3)], range=[-1.05, 1.05], anchor="x4", side="right", showgrid=False, zeroline=False,
                tickmode="array", tickvals=[-1, -.5, 0, .5, 1], ticktext=["−1.0", "−0.5", "0.0", "0.5", "1.0"],
                ticks="inside", ticklen=9, tickwidth=1.5, tickcolor="black", mirror="ticks", showline=True, linecolor="rgba(0,0,0,0)",
                ticklabelstandoff=2, tickfont=dict(family=net_font, size=22, color="black")),
    annotations=[
        dict(text="a", x=px_x(-2), y=px_y(34), xref="paper", yref="paper", xanchor="left", yanchor="middle", showarrow=False,
             font=dict(family="Open Sans", size=60, color="#222", weight="bold")),
        dict(text="b", x=px_x(-2), y=px_y(785), xref="paper", yref="paper", xanchor="left", yanchor="middle", showarrow=False,
             font=dict(family="Open Sans", size=60, color="#222", weight="bold")),
        dict(text="r", x=px_x(1696), y=px_y(1215), xref="paper", yref="paper", xanchor="center", yanchor="middle", showarrow=False,
             font=dict(family=net_font, size=23, color="black")),
    ],
)

fig.write_html("out.html", config=dict(displayModeBar=False),
               post_script="document.body.style.margin='0';document.body.style.overflow='hidden';")
